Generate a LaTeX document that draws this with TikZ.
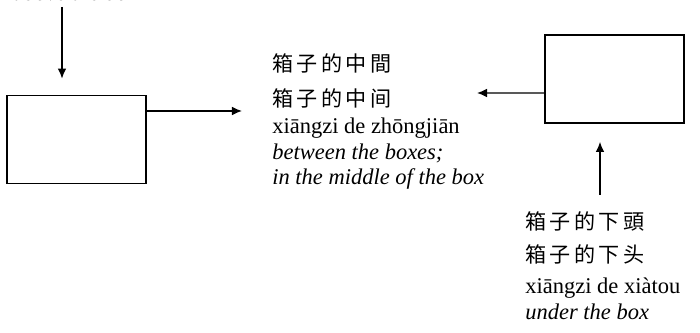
\documentclass[tikz,border=0pt]{standalone}
\usepackage{fontspec}
\setmainfont{Liberation Serif}
\newfontfamily\cjk[LetterSpace=16]{Noto Sans CJK SC}
\usetikzlibrary{arrows.meta,positioning}
\tikzset{
  kasten/.style={draw, line width=1.3pt, minimum width=3.475cm, minimum height=2.2cm, inner sep=0pt},
  pfeil/.style={line width=1pt, -{Latex[length=2.5mm,width=2.2mm]}},
  block/.style={align=left, inner sep=0pt, anchor=north west, font=\fontsize{16}{18}\selectfont},
}
\begin{document}
\begin{tikzpicture}[x=0.025cm, y=-0.025cm]
    % Rahmen
    \clip (0,0) rectangle (700,333);

    % Kaesten
    \node[kasten] (boxL) at (76.5,139.5) {};
    \node[kasten] (boxR) at (614.5,79) {};

    % Beschriftungen
    \node[anchor=base west, font=\fontsize{16}{18}\selectfont\itshape] (txtAbove) at (8,1) {above the box};
    \node[block] (txtMid) at (272,53) {{\cjk\fontsize{15}{18}\selectfont 箱子的中間}\\[0.25cm]
      {\cjk\fontsize{15}{18}\selectfont 箱子的中间}\\[0.05cm]
      xiāngzi de zhōngjiān\\
      \textit{between the boxes;}\\
      \textit{in the middle of the box}};
    \node[block] (txtUnder) at (525,211) {{\cjk\fontsize{15}{18}\selectfont 箱子的下頭}\\[0.2cm]
      {\cjk\fontsize{15}{18}\selectfont 箱子的下头}\\[0.15cm]
      xiāngzi de xiàtou\\
      \textit{under the box}};

    % Pfeile
    \coordinate (topTail) at (62,7);
    \coordinate (midTip) at (477,93);
    \coordinate (upTail) at (600,195);
    \draw[pfeil, shorten >=0.4cm] (topTail) -- (topTail |- boxL.north);
    \draw[pfeil, shorten >=0.75cm] ([yshift=0.7125cm]boxL.east) -- ([yshift=0.7125cm]boxL.east -| txtMid.west);
    \draw[pfeil] ([yshift=-0.35cm]boxR.west) -- (midTip);
    \draw[pfeil, shorten >=0.45cm] (upTail) -- (upTail |- boxR.south);
\end{tikzpicture}
\end{document}
